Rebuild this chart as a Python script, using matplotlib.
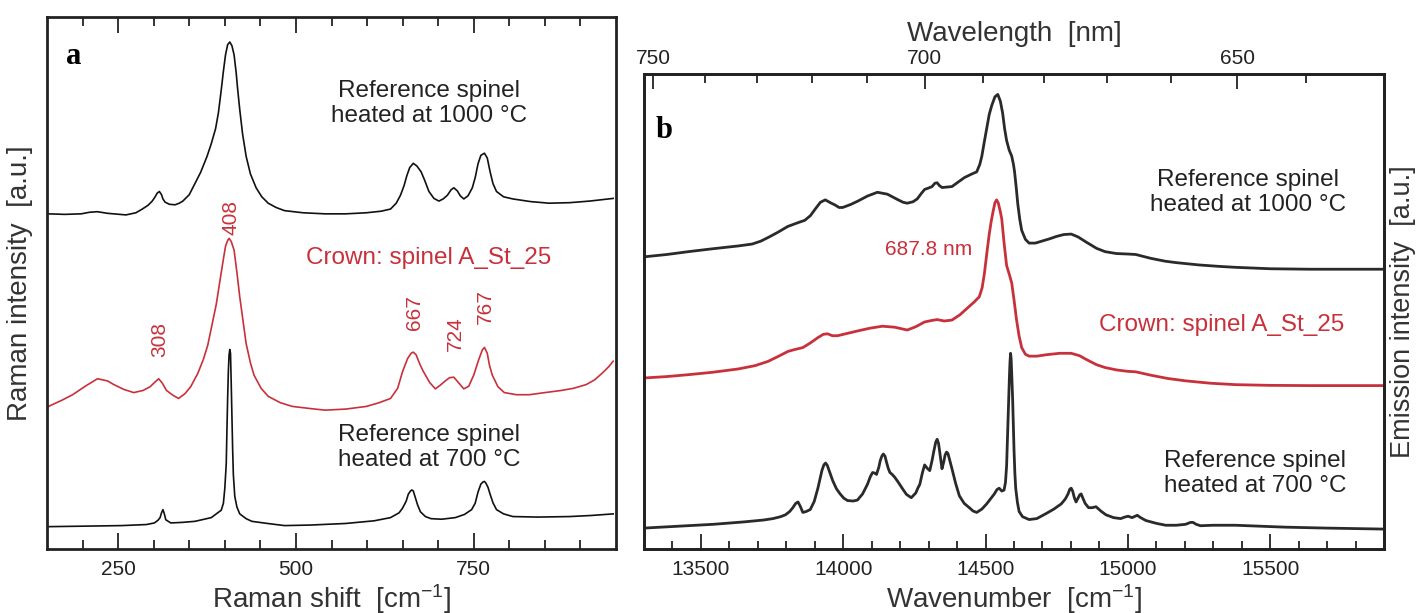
import matplotlib
matplotlib.use("Agg")
import matplotlib.pyplot as plt
from matplotlib.ticker import FixedLocator, NullLocator

plt.rcParams['font.family'] = ['Liberation Sans', 'DejaVu Sans']
plt.rcParams['mathtext.fontset'] = 'custom'
plt.rcParams['mathtext.rm'] = 'Liberation Sans'
plt.rcParams['mathtext.it'] = 'Liberation Sans:italic'
plt.rcParams['mathtext.default'] = 'regular'

# ---------------- Panel a: Raman spectra (a.u. with offsets) -------------
raman_1000_x = [152, 175, 198, 210, 221, 235, 261, 275, 284, 292, 298, 302, 305, 308, 311, 313, 316, 322, 330,
                336, 341, 350, 358, 366, 375, 381, 387, 391, 395, 398, 401, 404, 407, 410, 413, 416, 418, 421,
                425, 430, 436, 444, 452, 461, 472, 484, 510, 541, 570, 599, 620, 633, 641, 647, 652, 656, 660,
                665, 670, 676, 681, 687, 694, 701, 707, 713, 718, 722, 727, 731, 736, 742, 748, 752, 756, 760,
                765, 769, 773, 777, 782, 792, 805, 830, 856, 885, 913, 946]
raman_1000_y = [63.0, 62.9, 63.0, 63.3, 63.4, 63.1, 62.8, 63.2, 63.9, 64.6, 65.4, 66.2, 66.9, 67.2, 66.6, 65.8,
                65.2, 64.8, 64.7, 65.0, 65.4, 66.6, 68.7, 70.8, 73.8, 76.2, 79.0, 82.0, 86.3, 89.8, 92.9, 94.8,
                95.3, 94.6, 92.9, 89.5, 86.5, 82.6, 78.0, 73.8, 70.5, 67.9, 66.2, 65.0, 64.2, 63.6, 63.2, 63.0,
                63.0, 63.2, 63.5, 63.9, 65.0, 66.5, 68.3, 70.2, 71.7, 72.5, 72.0, 70.9, 69.3, 67.2, 65.9, 65.4,
                65.8, 66.5, 67.5, 67.9, 67.3, 66.4, 65.8, 66.4, 67.9, 69.8, 72.4, 74.0, 74.4, 73.5, 70.9, 68.7,
                67.2, 66.2, 65.8, 65.3, 65.0, 65.1, 65.4, 65.9]

crown_x = [152, 170, 186, 205, 221, 235, 244, 258, 272, 285, 295, 302, 307, 312, 318, 327, 335, 344, 352,
           362, 370, 376, 381, 388, 393, 398, 401, 404, 406, 409, 413, 417, 421, 426, 430, 436, 441, 451, 461,
           478, 495, 520, 541, 570, 599, 617, 633, 643, 650, 657, 662, 665, 669, 674, 679, 688, 696, 703,
           710, 716, 722, 729, 736, 743, 750, 757, 762, 765, 769, 772, 776, 784, 793, 810, 828, 850, 873,
           890, 908, 920, 931, 940, 946]
crown_y = [26.8, 27.9, 29.0, 30.7, 32.0, 31.6, 30.9, 30.0, 29.4, 29.8, 30.5, 31.4, 32.0, 31.2, 29.8, 28.9,
           28.3, 29.2, 30.5, 33.0, 35.7, 38.3, 41.5, 46.0, 50.3, 54.5, 56.9, 58.0, 58.4, 57.8, 56.2, 52.0,
           47.4, 42.5, 38.6, 35.0, 32.7, 30.2, 28.7, 27.5, 26.8, 26.4, 26.1, 26.3, 26.8, 27.5, 28.3, 30.2,
           33.4, 35.8, 36.8, 37.0, 36.5, 34.8, 33.4, 31.3, 30.1, 30.8, 31.6, 32.2, 32.3, 31.2, 30.1, 30.6,
           32.7, 35.6, 37.4, 37.9, 36.8, 34.6, 32.7, 30.5, 29.4, 29.0, 29.0, 29.4, 29.8, 30.2, 30.9, 31.8,
           33.1, 34.3, 35.3]

raman_700_x = [152, 205, 255, 290, 301, 306, 309, 311, 313, 315, 317, 324, 340, 358, 381, 390, 395, 398, 400,
               402, 403, 404, 405, 406, 407, 408, 409, 410, 411, 412, 414, 417, 421, 430, 438, 460, 484, 520,
               570, 610, 633, 645, 650, 655, 658, 661, 663, 665, 668, 671, 675, 682, 690, 705, 724, 737, 747,
               752, 756, 760, 763, 765, 767, 770, 773, 777, 782, 792, 805, 840, 885, 915, 946]
raman_700_y = [4.2, 4.3, 4.4, 4.6, 4.9, 5.4, 5.9, 6.8, 7.4, 6.6, 5.5, 4.9, 5.0, 5.2, 5.9, 6.8, 7.3, 8.6, 11.4,
               16.0, 22.4, 28.5, 33.5, 36.5, 37.5, 36.8, 31.2, 25.0, 18.8, 14.0, 9.9, 7.9, 6.6, 5.7, 5.2, 4.8,
               4.4, 4.5, 4.8, 5.3, 5.9, 6.8, 7.7, 9.0, 10.3, 10.9, 11.1, 10.9, 9.6, 8.3, 7.0, 6.1, 5.7, 5.6,
               5.9, 6.5, 7.4, 8.6, 10.7, 12.2, 12.6, 12.7, 12.4, 11.6, 10.3, 8.7, 7.4, 6.6, 6.1, 6.0, 6.1, 6.3,
               6.6]

raman_peak_pos = [308, 408, 667, 724, 767]
raman_peak_lbl = ["308", "408", "667", "724", "767"]
raman_peak_lbl_y = [39.3, 62.4, 44.5, 40.4, 45.6]

# ---------------- Panel b: emission spectra -------------
em_1000_x = [13299, 13380, 13456, 13540, 13631, 13680, 13710, 13740, 13771, 13805, 13841, 13865, 13885, 13902,
             13920, 13937, 13955, 13972, 13985, 13998, 14025, 14050, 14085, 14120, 14155, 14190, 14210, 14225,
             14245, 14260, 14275, 14286, 14300, 14312, 14322, 14330, 14338, 14347, 14365, 14382, 14405, 14426,
             14450, 14469, 14480, 14487, 14495, 14504, 14513, 14522, 14533, 14543, 14552, 14560, 14567, 14574,
             14583, 14592, 14598, 14602, 14608, 14613, 14620, 14627, 14640, 14653, 14675, 14697, 14725, 14749,
             14775, 14801, 14825, 14854, 14890, 14920, 14960, 15000, 15028, 15080, 15130, 15168, 15250, 15320,
             15378, 15500, 15640, 15893]
em_1000_y = [61.5, 62.0, 62.6, 63.2, 63.8, 64.2, 64.8, 65.7, 66.7, 67.9, 68.7, 69.2, 70.2, 71.6, 73.0, 73.5,
             72.9, 72.4, 71.9, 71.9, 72.5, 73.2, 74.3, 75.1, 74.7, 73.6, 73.0, 72.8, 73.1, 73.7, 74.9, 75.7,
             76.0, 76.3, 77.0, 77.1, 76.5, 76.1, 76.2, 76.3, 77.3, 78.2, 78.9, 79.4, 81.0, 82.7, 85.5, 88.5,
             91.5, 93.4, 95.2, 95.7, 94.3, 91.8, 88.5, 86.0, 84.0, 82.7, 81.0, 79.4, 76.0, 72.8, 69.5, 67.1,
             65.2, 64.4, 64.4, 64.8, 65.3, 65.8, 66.2, 66.3, 65.7, 64.6, 63.3, 62.6, 62.2, 62.1, 62.0, 61.2,
             60.6, 60.3, 59.8, 59.5, 59.3, 59.0, 58.9, 58.9]

em_crown_x = [13299, 13380, 13456, 13540, 13631, 13690, 13736, 13770, 13806, 13830, 13858, 13885, 13911, 13930,
              13945, 13962, 13980, 14015, 14050, 14095, 14138, 14180, 14225, 14255, 14286, 14310, 14330, 14355,
              14382, 14410, 14434, 14460, 14478, 14488, 14496, 14505, 14513, 14520, 14527, 14533, 14539, 14545,
              14552, 14557, 14565, 14574, 14585, 14592, 14600, 14609, 14618, 14627, 14640, 14653, 14680, 14714,
              14760, 14801, 14830, 14854, 14890, 14920, 14960, 15000, 15028, 15080, 15140, 15203, 15290, 15378,
              15500, 15640, 15893]
em_crown_y = [36.0, 36.3, 36.7, 37.2, 37.9, 38.6, 39.5, 40.5, 41.6, 42.0, 42.4, 43.4, 44.5, 45.2, 45.3, 44.9,
              44.9, 45.4, 45.9, 46.5, 46.9, 46.7, 46.1, 46.8, 47.8, 48.1, 48.3, 48.0, 48.2, 49.3, 50.6, 52.0,
              53.1, 55.0, 58.0, 62.5, 66.3, 69.0, 71.2, 72.9, 73.5, 72.8, 71.0, 69.5, 64.5, 59.7, 57.5, 56.0,
              52.5, 48.2, 44.8, 42.4, 41.0, 40.6, 40.6, 40.9, 41.2, 41.2, 40.7, 39.9, 38.8, 38.2, 37.7, 37.4,
              37.3, 36.6, 35.9, 35.4, 34.9, 34.6, 34.45, 34.4, 34.4]

em_700_x = [13299, 13420, 13544, 13650, 13720, 13753, 13780, 13797, 13812, 13823, 13833, 13841, 13849, 13858,
            13870, 13884, 13898, 13911, 13925, 13932, 13938, 13944, 13950, 13963, 13976, 13989, 14002, 14015,
            14035, 14050, 14068, 14085, 14095, 14103, 14110, 14117, 14125, 14130, 14136, 14141, 14147, 14152,
            14158, 14164, 14172, 14181, 14194, 14207, 14222, 14239, 14255, 14262, 14269, 14278, 14286, 14295,
            14304, 14312, 14318, 14325, 14330, 14335, 14340, 14347, 14353, 14358, 14363, 14368, 14375, 14382,
            14395, 14408, 14425, 14443, 14456, 14469, 14487, 14504, 14518, 14531, 14540, 14548, 14557, 14565,
            14570, 14574, 14578, 14581, 14584, 14586, 14588, 14590, 14592, 14595, 14597, 14600, 14603, 14606,
            14612, 14618, 14630, 14653, 14680, 14714, 14740, 14766, 14780, 14790, 14796, 14801, 14806, 14812,
            14818, 14826, 14831, 14836, 14842, 14850, 14862, 14875, 14888, 14905, 14923, 14950, 14975, 14988,
            15001, 15015, 15033, 15045, 15063, 15100, 15133, 15170, 15203, 15220, 15229, 15240, 15255, 15300,
            15378, 15470, 15552, 15700, 15893]
em_700_y = [4.4, 4.8, 5.2, 5.7, 6.1, 6.4, 6.8, 7.2, 7.9, 8.7, 9.6, 9.9, 9.0, 7.7, 7.9, 8.3, 10.0, 12.8, 16.5,
            17.7, 18.1, 17.6, 16.6, 14.4, 12.7, 11.6, 10.7, 10.2, 10.1, 10.3, 11.6, 13.6, 15.2, 16.1, 16.0,
            15.7, 17.2, 18.6, 19.6, 20.0, 19.5, 18.3, 17.0, 16.1, 15.7, 15.1, 14.0, 12.8, 11.5, 10.8, 11.8,
            12.8, 13.6, 16.0, 17.7, 17.0, 16.5, 18.6, 20.5, 22.5, 23.1, 22.2, 20.0, 16.9, 18.3, 19.8, 20.4,
            20.1, 18.5, 16.9, 13.8, 11.2, 9.6, 8.7, 8.0, 7.7, 8.4, 9.5, 10.6, 11.6, 12.5, 12.8, 12.2, 12.4,
            14.0, 17.5, 25.1, 30.5, 36.5, 39.5, 41.2, 40.0, 37.0, 32.0, 27.5, 21.0, 16.0, 12.8, 9.8, 7.9,
            6.8, 6.2, 6.4, 7.5, 8.4, 9.5, 10.5, 11.6, 12.6, 12.8, 12.2, 10.8, 9.9, 10.8, 11.4, 11.6, 10.7,
            9.6, 8.7, 8.7, 8.9, 8.0, 7.2, 6.6, 6.4, 6.7, 6.9, 6.6, 7.1, 6.6, 6.0, 5.4, 5.0, 5.0, 5.2, 5.6,
            5.6, 5.2, 4.9, 5.0, 5.0, 4.8, 4.6, 4.4, 4.2]

wl_major = [750, 700, 650]
wl_minor = [740, 730, 720, 710, 690, 680, 670, 660, 640]

BLACK = '#111111'
GRAY = '#2a2a2a'
RED = '#c8313b'

fig = plt.figure(figsize=(14.21, 6.13), dpi=100)
axa = fig.add_axes([47 / 1421, 64 / 613, 569 / 1421, 532 / 613])
axb = fig.add_axes([644 / 1421, 64 / 613, 740 / 1421, 475 / 613])

for ax in (axa, axb):
    for s in ax.spines.values():
        s.set_linewidth(2.0)
        s.set_color('#222222')
    ax.yaxis.set_major_locator(NullLocator())
    ax.yaxis.set_minor_locator(NullLocator())
    ax.set_ylim(0, 100)

# ----- panel a -----
axa.plot(raman_1000_x, raman_1000_y, color=BLACK, lw=1.2)
axa.plot(crown_x, crown_y, color=RED, lw=1.2)
axa.plot(raman_700_x, raman_700_y, color=BLACK, lw=1.2)
axa.set_xlim(150, 950)
axa.xaxis.set_major_locator(FixedLocator([250, 500, 750]))
axa.xaxis.set_minor_locator(FixedLocator([200, 300, 350, 400, 450, 550, 600, 650, 700, 800, 850, 900]))
axa.tick_params(axis='x', which='both', direction='in', top=True, bottom=True, labelsize=15,
                colors='#222222', width=1.3, pad=8)
axa.tick_params(axis='x', which='major', length=11.5)
axa.tick_params(axis='x', which='minor', length=6.5)
axa.set_xlabel('Raman shift  [cm$^{-1}$]', fontsize=20, color='#333333', labelpad=2)
axa.set_ylabel('Raman intensity  [a.u.]', fontsize=20, color='#333333', labelpad=10)

axa.text(687, 83.7, 'Reference spinel\nheated at 1000 °C', ha='center', va='center', fontsize=17.5,
         color='#222222', linespacing=1.15)
axa.text(687, 54.7, 'Crown: spinel A_St_25', ha='center', va='center', fontsize=17.5, color=RED)
axa.text(687, 19.1, 'Reference spinel\nheated at 700 °C', ha='center', va='center', fontsize=17.5,
         color='#222222', linespacing=1.15)
for px, lbl, ly in zip(raman_peak_pos, raman_peak_lbl, raman_peak_lbl_y):
    axa.text(px, ly, lbl, rotation=90, ha='center', va='center', fontsize=15, color=RED)
axa.text(0.033, 0.925, 'a', transform=axa.transAxes, fontsize=22, fontweight='bold',
         family='Liberation Serif', ha='left', va='center', color='black')

# ----- panel b -----
axb.plot(em_1000_x, em_1000_y, color=GRAY, lw=2.0)
axb.plot(em_crown_x, em_crown_y, color=RED, lw=2.0)
axb.plot(em_700_x, em_700_y, color=GRAY, lw=2.0)
axb.set_xlim(13300, 15900)
axb.xaxis.set_major_locator(FixedLocator([13500, 14000, 14500, 15000, 15500]))
axb.xaxis.set_minor_locator(FixedLocator([v for v in range(13400, 15900, 100) if v % 500 != 0]))
axb.tick_params(axis='x', which='both', direction='in', top=False, bottom=True, labelsize=15,
                colors='#222222', width=1.3, pad=8)
axb.tick_params(axis='x', which='major', length=11)
axb.tick_params(axis='x', which='minor', length=6)
axb.set_xlabel('Wavenumber  [cm$^{-1}$]', fontsize=20, color='#333333', labelpad=2)
axb.yaxis.set_label_position('right')
axb.set_ylabel('Emission intensity  [a.u.]', fontsize=19.5, color='#333333', labelpad=4)

top = axb.twiny()
top.set_xlim(axb.get_xlim())
top.xaxis.set_major_locator(FixedLocator([1e7 / w for w in wl_major]))
top.xaxis.set_minor_locator(FixedLocator([1e7 / w for w in wl_minor]))
top.set_xticklabels([str(w) for w in wl_major])
top.tick_params(axis='x', which='both', direction='in', labelsize=15, colors='#222222', width=1.3, pad=4)
top.tick_params(axis='x', which='major', length=11)
top.tick_params(axis='x', which='minor', length=6.5)
top.set_xlabel('Wavelength  [nm]', fontsize=20, color='#333333', labelpad=6)
for s in top.spines.values():
    s.set_linewidth(2.0)
    s.set_color('#222222')

axb.text(15421, 75.0, 'Reference spinel\nheated at 1000 °C', ha='center', va='center', fontsize=17.5,
         color='#222222', linespacing=1.15)
axb.text(14300, 63.0, '687.8 nm', ha='center', va='center', fontsize=15, color=RED)
axb.text(15329, 47.1, 'Crown: spinel A_St_25', ha='center', va='center', fontsize=17.5, color=RED)
axb.text(15448, 15.9, 'Reference spinel\nheated at 700 °C', ha='center', va='center', fontsize=17.5,
         color='#222222', linespacing=1.15)
axb.text(13340, 88.2, 'b', fontsize=22, fontweight='bold', family='Liberation Serif',
         ha='left', va='center', color='black')

fig.savefig('out.png', dpi=100)
